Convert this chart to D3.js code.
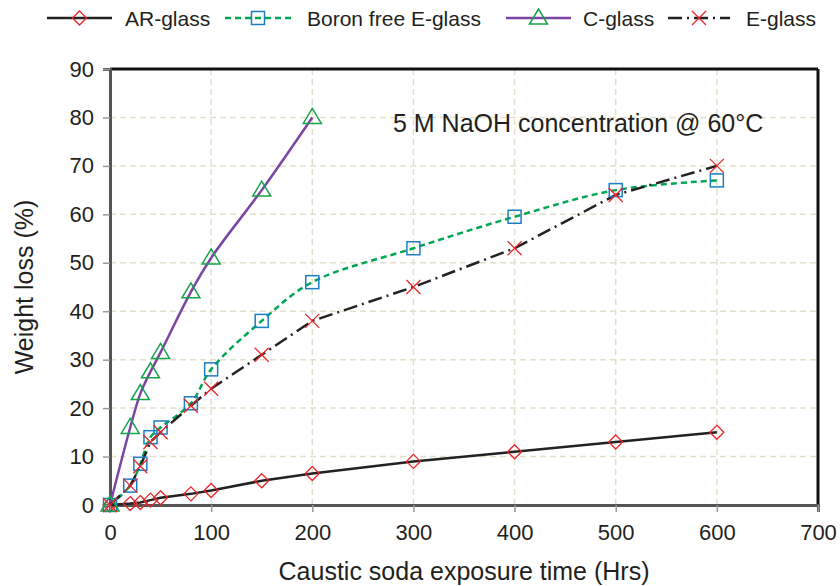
<!DOCTYPE html>
<html>
<head>
<meta charset="utf-8">
<script src="https://cdn.jsdelivr.net/npm/d3@7"></script>
<style>
  body { margin: 0; background: #fff; }
  svg { display: block; font-family: "Liberation Sans", Arial, sans-serif; }
</style>
</head>
<body>
<svg id="chart" width="840" height="586"></svg>
<script>
const hours = [0, 20, 30, 40, 50, 80, 100, 150, 200, 300, 400, 500, 600];
const hoursC = [0, 20, 30, 40, 50, 80, 100, 150, 200];
const arGlass = [0, 0.3, 0.5, 1, 1.5, 2.3, 3, 5, 6.5, 9, 11, 13, 15];
const boronFree = [0, 4, 8.5, 14, 16, 21, 28, 38, 46, 53, 59.5, 65, 67];
const cGlass = [0, 16, 23, 27.5, 31.5, 44, 51, 65, 80];
const eGlass = [0, 4, 8, 13, 15, 20.5, 24, 31, 38, 45, 53, 64, 70];
const xTicks = [0, 100, 200, 300, 400, 500, 600, 700];
const yTicks = [0, 10, 20, 30, 40, 50, 60, 70, 80, 90];

const series = [
  { name: "AR-glass", xs: hours, ys: arGlass, line: "#222", dash: null, marker: "diamond", mcol: "#e8262b", width: 2.5, smooth: false },
  { name: "Boron free E-glass", xs: hours, ys: boronFree, line: "#00a651", dash: "6,4", marker: "square", mcol: "#1c7fc4", width: 2.5, smooth: true },
  { name: "C-glass", xs: hoursC, ys: cGlass, line: "#7a45a3", dash: null, marker: "triangle", mcol: "#16a34a", width: 2.5, smooth: true },
  { name: "E-glass", xs: hours, ys: eGlass, line: "#222", dash: "14,5,2,5", marker: "cross", mcol: "#e8262b", width: 2.5, smooth: false },
];

const svg = d3.select("#chart");
const m = { left: 110, right: 22, top: 69, bottom: 81 };
const W = 840, H = 586;
const ink = "#231f20";

const x = d3.scaleLinear().domain([0, 700]).range([m.left, W - m.right]);
const y = d3.scaleLinear().domain([0, 90]).range([H - m.bottom, m.top]);

// grid
const grid = svg.append("g");
grid.selectAll(".gx").data(xTicks.slice(1, -1)).join("line")
  .attr("x1", d => x(d)).attr("x2", d => x(d))
  .attr("y1", y(0)).attr("y2", y(90))
  .attr("stroke", "#e3dfcc").attr("stroke-width", 1.5).attr("stroke-dasharray", "6,4");
grid.selectAll(".gy").data(yTicks.slice(1, -1)).join("line")
  .attr("x1", x(0)).attr("x2", x(700))
  .attr("y1", d => y(d)).attr("y2", d => y(d))
  .attr("stroke", "#e3dfcc").attr("stroke-width", 1.5).attr("stroke-dasharray", "6,4");

// frame: top/right black, axes gray
svg.append("line").attr("x1", x(0)).attr("x2", x(700)).attr("y1", y(90)).attr("y2", y(90))
  .attr("stroke", "#111").attr("stroke-width", 3);
svg.append("line").attr("x1", x(700)).attr("x2", x(700)).attr("y1", y(90)).attr("y2", y(0))
  .attr("stroke", "#111").attr("stroke-width", 3);

const yAxis = svg.append("g").attr("transform", `translate(${x(0)},0)`)
  .call(d3.axisLeft(y).tickValues(yTicks).tickSize(7).tickPadding(9));
const xAxis = svg.append("g").attr("transform", `translate(0,${y(0)})`)
  .call(d3.axisBottom(x).tickValues(xTicks).tickSize(7).tickPadding(12));
[xAxis, yAxis].forEach(g => {
  g.select(".domain").attr("stroke", "#555").attr("stroke-width", 3);
  g.selectAll(".tick line").attr("stroke", "#999").attr("stroke-width", 1.5);
  g.selectAll(".tick text").attr("font-size", 22).attr("fill", ink)
    .attr("font-family", "Liberation Sans, Arial, sans-serif");
});

// lines
const lines = svg.append("g");
series.forEach(s => {
  const pts = s.xs.map((h, i) => [x(h), y(s.ys[i])]);
  const gen = d3.line().curve(s.smooth ? d3.curveCatmullRom : d3.curveLinear);
  lines.append("path").attr("d", gen(pts))
    .attr("fill", "none").attr("stroke", s.line).attr("stroke-width", s.width)
    .attr("stroke-dasharray", s.dash);
});

function drawMarker(g, type, cx, cy, col) {
  if (type === "diamond") {
    g.append("path").attr("d", `M${cx},${cy - 7}L${cx + 7},${cy}L${cx},${cy + 7}L${cx - 7},${cy}Z`)
      .attr("fill", "none").attr("stroke", col).attr("stroke-width", 1.3);
  } else if (type === "square") {
    g.append("rect").attr("x", cx - 6.5).attr("y", cy - 6.5).attr("width", 13).attr("height", 13)
      .attr("fill", "none").attr("stroke", col).attr("stroke-width", 1.5);
  } else if (type === "triangle") {
    g.append("path").attr("d", `M${cx},${cy - 9}L${cx + 9},${cy + 6}L${cx - 9},${cy + 6}Z`)
      .attr("fill", "none").attr("stroke", col).attr("stroke-width", 1.5);
  } else {
    g.append("path").attr("d", `M${cx - 7},${cy - 7}L${cx + 7},${cy + 7}M${cx + 7},${cy - 7}L${cx - 7},${cy + 7}`)
      .attr("fill", "none").attr("stroke", col).attr("stroke-width", 1.3);
  }
}

const marks = svg.append("g");
series.forEach(s => {
  s.xs.forEach((h, i) => drawMarker(marks, s.marker, x(h), y(s.ys[i]), s.mcol));
});

// legend
const legendPos = [
  { x1: 47, x2: 112, tx: 125 },
  { x1: 225, x2: 291, tx: 307 },
  { x1: 506, x2: 571, tx: 583 },
  { x1: 668, x2: 730, tx: 746 },
];
const lg = svg.append("g");
series.forEach((s, i) => {
  const p = legendPos[i];
  lg.append("line").attr("x1", p.x1).attr("x2", p.x2).attr("y1", 18).attr("y2", 18)
    .attr("stroke", s.line).attr("stroke-width", s.width).attr("stroke-dasharray", s.dash);
  drawMarker(lg, s.marker, (p.x1 + p.x2) / 2, 18, s.mcol);
  lg.append("text").attr("x", p.tx).attr("y", 26).attr("font-size", 21).attr("fill", ink).text(s.name);
});

svg.append("text").attr("x", 393).attr("y", 132).attr("font-size", 25).attr("fill", ink)
  .text("5 M NaOH concentration @ 60°C");

svg.append("text").attr("x", (x(0) + x(700)) / 2).attr("y", 580).attr("text-anchor", "middle")
  .attr("font-size", 25).attr("fill", ink).text("Caustic soda exposure time (Hrs)");
svg.append("text").attr("transform", `translate(33,${(y(0) + y(90)) / 2}) rotate(-90)`)
  .attr("text-anchor", "middle").attr("font-size", 25).attr("fill", ink).text("Weight loss (%)");
</script>
</body>
</html>
